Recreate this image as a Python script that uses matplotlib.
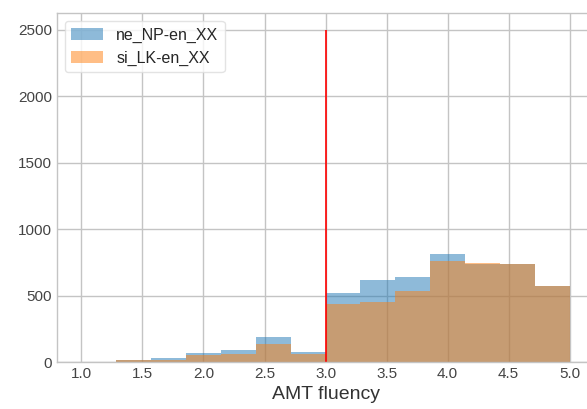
import numpy as np
import matplotlib
matplotlib.use("Agg")
import matplotlib.pyplot as plt

# histogram counts (14 equal bins from 1.0 to 5.0)
bin_lo = 1.0
bin_hi = 5.0
n_bins = 14
ne_counts = [0, 17, 32, 67, 92, 190, 75, 520, 620, 638, 813, 740, 735, 575]
si_counts = [0, 12, 17, 50, 58, 135, 58, 437, 452, 532, 758, 748, 740, 575]
labels = ["ne_NP-en_XX", "si_LK-en_XX"]
threshold = 3.0
threshold_top = 2500

plt.style.use("seaborn-v0_8-whitegrid")
plt.rcParams["font.family"] = ["Liberation Sans", "DejaVu Sans"]
plt.rcParams["grid.color"] = "#c4c4c4"
plt.rcParams["grid.linewidth"] = 1.0
plt.rcParams["axes.edgecolor"] = "#c4c4c4"

edges = np.linspace(bin_lo, bin_hi, n_bins + 1)
centers = (edges[:-1] + edges[1:]) / 2

fig = plt.figure(figsize=(5.87, 4.09), dpi=100)
ax = fig.add_axes([0.0971, 0.1149, 0.915, 0.853])

ax.hist(centers, bins=edges, weights=ne_counts, alpha=0.5, label=labels[0])
ax.hist(centers, bins=edges, weights=si_counts, alpha=0.5, label=labels[1])
ax.vlines(threshold, 0, threshold_top, color="red", linewidth=1.2)

ax.set_xlabel("AMT fluency", fontsize=14, color="#333333", labelpad=4)
ax.tick_params(labelsize=11, colors="#444444")
ax.set_xticks(np.arange(1.0, 5.01, 0.5))
ax.set_yticks([0, 500, 1000, 1500, 2000, 2500])

leg = ax.legend(loc="upper left", fontsize=11.5, frameon=True, framealpha=0.8)
leg.get_frame().set_edgecolor("#dddddd")

fig.savefig("out.png", dpi=100)
